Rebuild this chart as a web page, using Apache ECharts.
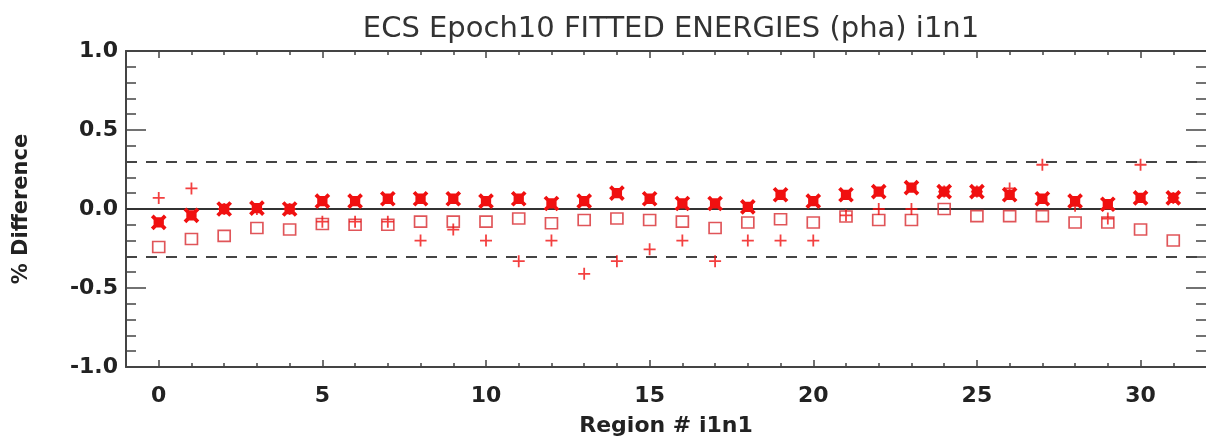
<!DOCTYPE html>
<html>
<head>
<meta charset="utf-8">
<script src="https://cdn.jsdelivr.net/npm/echarts@6/dist/echarts.min.js"></script>
<style>
html,body{margin:0;padding:0;background:#fff;}
#chart{width:1206px;height:445px;}
</style>
</head>
<body>
<div id="chart"></div>
<script>
// Axis categories (region numbers, padded by one unit on each side)
var xCategories = ['-1','0','1','2','3','4','5','6','7','8','9','10','11','12','13','14','15','16','17','18','19','20','21','22','23','24','25','26','27','28','29','30','31','32'];
var regions = ['0','1','2','3','4','5','6','7','8','9','10','11','12','13','14','15','16','17','18','19','20','21','22','23','24','25','26','27','28','29','30','31'];
// % difference values
var crossValues = [-0.085,-0.04,0.0,0.005,0.0,0.05,0.05,0.065,0.065,0.065,0.05,0.065,0.035,0.05,0.10,0.065,0.035,0.035,0.013,0.09,0.05,0.09,0.11,0.135,0.11,0.11,0.09,0.065,0.05,0.03,0.07,0.07];
var squareValues = [-0.24,-0.19,-0.17,-0.12,-0.13,-0.095,-0.10,-0.10,-0.08,-0.08,-0.08,-0.06,-0.09,-0.07,-0.06,-0.07,-0.08,-0.12,-0.085,-0.065,-0.085,-0.047,-0.07,-0.07,0.0,-0.045,-0.045,-0.045,-0.085,-0.085,-0.13,-0.20];
var plusValues = [0.07,0.13,0.0,0.0,0.0,-0.08,-0.08,-0.08,-0.20,-0.13,-0.20,-0.33,-0.20,-0.41,-0.33,-0.255,-0.20,-0.33,-0.20,-0.20,-0.20,-0.04,0.0,0.0,0.11,0.11,0.13,0.28,0.02,-0.06,0.28,0.07];
var yTicks = ['-1.0','-0.5','0.0','0.5','1.0'];
var refLevels = [-0.3, 0.3];

function pairs(vals){ return vals.map(function(v,i){ return [regions[i], v]; }); }

var axisColor = '#444';
var fontFam = '"DejaVu Sans", sans-serif';
function isMajor(idx, val){ var n = parseInt(val,10); return n >= 0 && n <= 31 && n % 5 === 0; }
function isInner(idx, val){ var n = parseInt(val,10); return n >= 0 && n <= 31; }

function xAx(pos, major, withLabels, name){
  var a = {
    type: 'category', data: xCategories, position: pos, boundaryGap: false,
    axisLine: {show: !major, onZero: false, lineStyle: {color: axisColor, width: 2}},
    axisTick: {show: true, inside: true, length: major ? 7 : 4, interval: major ? isMajor : isInner,
               lineStyle: {color: axisColor, width: 1.5}},
    axisLabel: {show: withLabels, interval: isMajor, margin: 18, color: '#222',
                fontFamily: fontFam, fontSize: 22, fontWeight: 'bold'},
    splitLine: {show: false}
  };
  if (name) {
    a.name = name; a.nameLocation = 'middle'; a.nameGap = 48;
    a.nameTextStyle = {color: '#222', fontFamily: fontFam, fontSize: 22, fontWeight: 'bold'};
  }
  return a;
}
function yAx(pos, withLabels, name, showLine){
  var a = {
    type: 'value', min: -1, max: 1, interval: 0.5, position: pos,
    axisLine: {show: showLine, onZero: false, lineStyle: {color: axisColor, width: 2}},
    axisTick: {show: true, inside: true, length: 20, lineStyle: {color: axisColor, width: 1.5}},
    minorTick: {show: true, splitNumber: 5, length: 10, lineStyle: {color: axisColor, width: 1.5}},
    axisLabel: {show: withLabels, margin: 8, color: '#222', fontFamily: fontFam, fontSize: 22, fontWeight: 'bold',
                formatter: function(v){ return yTicks[Math.round((v + 1) / 0.5)]; }},
    splitLine: {show: false}
  };
  if (name) {
    a.name = name; a.nameLocation = 'middle'; a.nameGap = 94;
    a.nameTextStyle = {color: '#222', fontFamily: fontFam, fontSize: 21, fontWeight: 'bold'};
  }
  return a;
}

var red = '#f01010';
var option = {
  animation: false,
  backgroundColor: '#fff',
  title: {
    text: 'ECS Epoch10 FITTED ENERGIES (pha) i1n1',
    left: 666, top: 10, textAlign: 'center',
    textStyle: {color: '#333', fontFamily: fontFam, fontSize: 29, fontWeight: 'normal'}
  },
  grid: {left: 126, top: 51, width: 1088, height: 316, containLabel: false},
  xAxis: [
    xAx('bottom', false, true, null),
    xAx('bottom', true, false, 'Region # i1n1'),
    xAx('top', false, false, null),
    xAx('top', true, false, null)
  ],
  yAxis: [
    yAx('left', true, '% Difference', true),
    yAx('right', false, null, false)
  ],
  series: [
    {
      type: 'scatter', name: 'square', xAxisIndex: 0, yAxisIndex: 0, z: 3,
      symbol: 'rect', symbolSize: [12, 11],
      itemStyle: {color: 'rgba(0,0,0,0)', borderColor: '#d82a30', borderWidth: 1.6},
      data: pairs(squareValues),
      markLine: {
        silent: true, symbol: 'none', z: 1, animation: false,
        label: {show: false},
        data: [
          {yAxis: 0, lineStyle: {color: '#333', width: 2, type: 'solid'}},
          {yAxis: refLevels[0], lineStyle: {color: '#444', width: 2, type: [11, 9]}},
          {yAxis: refLevels[1], lineStyle: {color: '#444', width: 2, type: [11, 9]}}
        ]
      }
    },
    {
      type: 'scatter', name: 'plus', xAxisIndex: 0, yAxisIndex: 0, z: 4,
      symbol: 'path://M0,6L12,6M6,0L6,12', symbolSize: 12,
      itemStyle: {color: 'rgba(0,0,0,0)', borderColor: red, borderWidth: 1.8},
      data: pairs(plusValues)
    },
    {
      type: 'scatter', name: 'cross', xAxisIndex: 0, yAxisIndex: 0, z: 5,
      symbol: 'path://M0,0L12,12M12,0L0,12M3,3L9,3L9,9L3,9Z', symbolSize: 13,
      itemStyle: {color: red, borderColor: red, borderWidth: 3.8, opacity: 1},
      data: pairs(crossValues)
    }
  ]
};

var chart = echarts.init(document.getElementById('chart'), null, {renderer: 'canvas'});
chart.setOption(option);
</script>
</body>
</html>
